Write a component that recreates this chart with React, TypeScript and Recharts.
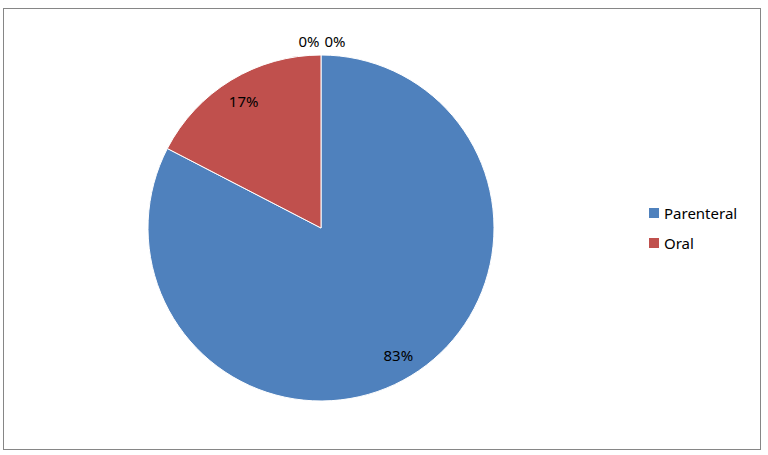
import { PieChart, Pie, Cell, Legend } from "recharts";

const categories = ["Parenteral", "Oral", "Other A", "Other B"];
const values = [82.6, 17.4, 0, 0];
const legendNames = ["Parenteral", "Oral"];
const colors = ["#4F81BD", "#C0504D", "#9BBB59", "#8064A2"];

const data = categories.map((name, i) => ({ name, value: values[i] }));

const FONT = "'Noto Sans', sans-serif";

function renderLabel(props: any) {
  const { cx, cy, midAngle, outerRadius, value, index } = props;
  const RAD = Math.PI / 180;
  const txt = `${Math.round(value)}%`;
  if (value === 0) {
    // zero slices sit at 12 o'clock; push labels outside and spread them
    const zeroIdx = index - 2;
    const x = cx + (zeroIdx === 0 ? -12 : 14);
    const y = cy - outerRadius - 14;
    return (
      <text x={x} y={y} textAnchor="middle" dominantBaseline="central" fill="#000" fontSize={15} fontFamily={FONT}>
        {txt}
      </text>
    );
  }
  const r = outerRadius * 0.86;
  const x = cx + r * Math.cos(-midAngle * RAD);
  const y = cy + r * Math.sin(-midAngle * RAD);
  return (
    <text x={x} y={y} textAnchor="middle" dominantBaseline="central" fill="#000" fontSize={15} fontFamily={FONT}>
      {txt}
    </text>
  );
}

function CustomLegend() {
  return (
    <div style={{ fontFamily: FONT, fontSize: 15, color: "#000" }}>
      {legendNames.map((n, i) => (
        <div key={n} style={{ display: "flex", alignItems: "center", height: 30 }}>
          <span style={{ width: 10, height: 10, background: colors[i], display: "inline-block", marginRight: 5 }} />
          <span>{n}</span>
        </div>
      ))}
    </div>
  );
}

export default function App() {
  return (
    <div style={{ position: "absolute", left: 0, top: 0, width: 768, height: 455, background: "#fff" }}>
      <div
        style={{
          position: "absolute",
          left: 3,
          top: 8,
          width: 756,
          height: 440,
          border: "1px solid #868686",
        }}
      />
      <PieChart
        width={768}
        height={455}
        margin={{ top: 0, right: 0, bottom: 0, left: 0 }}
        style={{ position: "absolute", left: 0, top: 0 }}
      >
        <Pie
          data={data}
          dataKey="value"
          nameKey="name"
          cx={321}
          cy={228}
          outerRadius={173}
          startAngle={90}
          endAngle={-270}
          stroke="#fff"
          strokeWidth={1}
          label={renderLabel}
          labelLine={false}
          isAnimationActive={false}
        >
          {data.map((d, i) => (
            <Cell key={d.name} fill={colors[i]} />
          ))}
        </Pie>
        <Legend
          content={<CustomLegend />}
          wrapperStyle={{ position: "absolute", left: 649, top: 198, width: 110 }}
        />
      </PieChart>
    </div>
  );
}
